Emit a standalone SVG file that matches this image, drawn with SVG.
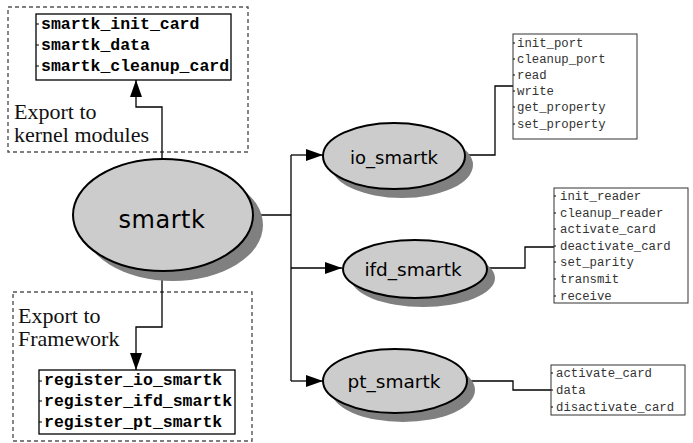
<svg xmlns="http://www.w3.org/2000/svg" width="693" height="443" viewBox="0 0 693 443">
<defs>
<marker id="ah" markerUnits="userSpaceOnUse" markerWidth="18" markerHeight="12" refX="17" refY="6" orient="auto">
<path d="M0,0 L17,6 L0,12 Z" fill="#000"/>
</marker>
</defs>
<style>
.dash{fill:none;stroke:#555;stroke-width:1.4;stroke-dasharray:4 3}
.box{fill:#fff;stroke:#000;stroke-width:1.3}
.sbox{fill:#fff;stroke:#333;stroke-width:1}
.shadow{fill:#808080}
.ell{fill:#cccccc;stroke:#000;stroke-width:2}
.ser{font-family:"Liberation Serif",serif;font-size:22px;fill:#111}
.mb{font-family:"Liberation Mono",monospace;font-size:16.5px;font-weight:bold;fill:#000}
.ml{font-family:"Liberation Mono",monospace;font-size:12.3px;fill:#333}
.lab{font-family:"DejaVu Sans",sans-serif;fill:#000;text-anchor:middle}
.conn{fill:none;stroke:#000;stroke-width:1.3}
.tick{stroke:#000;stroke-width:1}
</style>
<rect x="8" y="7" width="240" height="145" class="dash"/>
<rect x="13" y="292" width="239" height="149" class="dash"/>
<text x="14" y="119" class="ser">Export to</text>
<text x="14" y="142" class="ser">kernel modules</text>
<text x="18" y="323" class="ser">Export to</text>
<text x="18" y="346" class="ser">Framework</text>
<g id="connectors">
<polyline class="conn" points="162,158 162,107 136,107 136,80" marker-end="url(#ah)"/>
<polyline class="conn" points="162,272 162,327 136,327 136,370" marker-end="url(#ah)"/>
<polyline class="conn" points="253,215 291,215"/>
<polyline class="conn" points="291,155 291,381"/>
<polyline class="conn" points="291,155 323,155" marker-end="url(#ah)"/>
<polyline class="conn" points="291,268 342,268" marker-end="url(#ah)"/>
<polyline class="conn" points="291,381 323,381" marker-end="url(#ah)"/>
<polyline class="conn" points="465,155 495,155 495,86 513,86"/>
<polyline class="conn" points="487,268 525,268 525,247 554,247"/>
<polyline class="conn" points="467,381 513,381 513,390 551,390"/>
</g>
<g id="kernel_exports">
<rect x="36" y="14" width="195" height="66" class="box"/>
<line x1="36" y1="24" x2="39" y2="24" class="tick"/>
<line x1="36" y1="45" x2="39" y2="45" class="tick"/>
<line x1="36" y1="66" x2="39" y2="66" class="tick"/>
<text x="41" y="29" class="mb">smartk_init_card</text>
<text x="41" y="50" class="mb">smartk_data</text>
<text x="41" y="71" class="mb">smartk_cleanup_card</text>
</g>
<g id="framework_exports">
<rect x="39" y="370" width="196" height="64" class="box"/>
<line x1="39" y1="381" x2="42" y2="381" class="tick"/>
<line x1="39" y1="401" x2="42" y2="401" class="tick"/>
<line x1="39" y1="422" x2="42" y2="422" class="tick"/>
<text x="44" y="385" class="mb">register_io_smartk</text>
<text x="44" y="406" class="mb">register_ifd_smartk</text>
<text x="44" y="427" class="mb">register_pt_smartk</text>
</g>
<g id="smartk">
<ellipse cx="173" cy="225" rx="90" ry="56" class="shadow"/>
<ellipse cx="163" cy="215" rx="90" ry="56" class="ell"/>
<text x="162" y="228" class="lab" font-size="24" letter-spacing="0.5">smartk</text>
</g>
<g id="io_smartk">
<ellipse cx="402" cy="165" rx="71" ry="33" class="shadow"/>
<ellipse cx="394" cy="156" rx="71" ry="33" class="ell"/>
<text x="394" y="164" class="lab" font-size="18">io_smartk</text>
</g>
<g id="ifd_smartk">
<ellipse cx="423" cy="278" rx="72" ry="29" class="shadow"/>
<ellipse cx="415" cy="269" rx="72" ry="29" class="ell"/>
<text x="413" y="276" class="lab" font-size="18.5">ifd_smartk</text>
</g>
<g id="pt_smartk">
<ellipse cx="403" cy="390" rx="72" ry="32" class="shadow"/>
<ellipse cx="395" cy="381" rx="72" ry="32" class="ell"/>
<text x="394" y="388" class="lab" font-size="18.5">pt_smartk</text>
</g>
<g id="io_ops">
<rect x="513" y="34" width="124" height="105" class="sbox"/>
<g class="tick">
<line x1="513" y1="43" x2="515" y2="43"/><line x1="513" y1="59" x2="515" y2="59"/><line x1="513" y1="75" x2="515" y2="75"/>
<line x1="513" y1="91" x2="515" y2="91"/><line x1="513" y1="107" x2="515" y2="107"/><line x1="513" y1="124" x2="515" y2="124"/>
</g>
<text x="517" y="47" class="ml">init_port</text>
<text x="517" y="63" class="ml">cleanup_port</text>
<text x="517" y="79" class="ml">read</text>
<text x="517" y="95" class="ml">write</text>
<text x="517" y="111" class="ml">get_property</text>
<text x="517" y="128" class="ml">set_property</text>
</g>
<g id="ifd_ops">
<rect x="554" y="188" width="134" height="115" class="sbox"/>
<g class="tick">
<line x1="554" y1="196" x2="556" y2="196"/><line x1="554" y1="213" x2="556" y2="213"/><line x1="554" y1="229" x2="556" y2="229"/>
<line x1="554" y1="246" x2="556" y2="246"/><line x1="554" y1="262" x2="556" y2="262"/><line x1="554" y1="279" x2="556" y2="279"/>
<line x1="554" y1="296" x2="556" y2="296"/>
</g>
<text x="560" y="200" class="ml">init_reader</text>
<text x="560" y="217" class="ml">cleanup_reader</text>
<text x="560" y="233" class="ml">activate_card</text>
<text x="560" y="250" class="ml">deactivate_card</text>
<text x="560" y="266" class="ml">set_parity</text>
<text x="560" y="283" class="ml">transmit</text>
<text x="560" y="300" class="ml">receive</text>
</g>
<g id="pt_ops">
<rect x="551" y="365" width="134" height="50" class="sbox"/>
<g class="tick">
<line x1="551" y1="373" x2="553" y2="373"/><line x1="551" y1="390" x2="553" y2="390"/><line x1="551" y1="407" x2="553" y2="407"/>
</g>
<text x="556" y="377" class="ml">activate_card</text>
<text x="556" y="394" class="ml">data</text>
<text x="556" y="411" class="ml">disactivate_card</text>
</g>
</svg>
